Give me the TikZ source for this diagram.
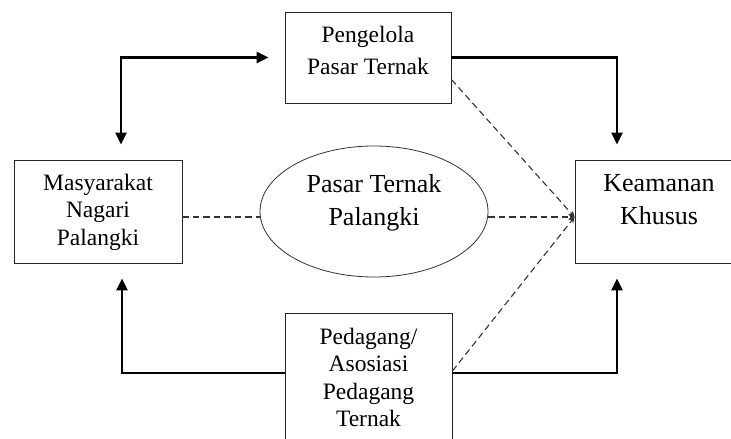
\documentclass[tikz,border=0pt]{standalone}
\usepackage{fontspec}
\setmainfont{Liberation Serif}
\usetikzlibrary{arrows.meta,shapes.geometric}

\begin{document}
\begin{tikzpicture}[
  x=1pt,y=-1pt,
  box/.style={draw=black!85,line width=0.9pt,inner sep=2pt,align=center,minimum width=167pt,minimum height=103pt,font=\fontsize{23.5}{27.5}\selectfont},
  bigtxt/.style={font=\fontsize{26}{33}\selectfont},
  arr/.style={-{Triangle[length=12pt,width=11pt]},line width=2.8pt},
  dline/.style={dash pattern=on 6.5pt off 4pt,line width=1.1pt,draw=black!80},
  tip/.style={-{Stealth[length=6pt,width=6pt]}}]
  \useasboundingbox (0,0) rectangle (731,439);
  \clip (0,0) rectangle (731,439);
  \node[box,minimum width=166pt,minimum height=91pt,font=\fontsize{23.5}{32}\selectfont,text height=49pt,text depth=16pt] (pengelola) at (368,57.5) {Pengelola\\Pasar Ternak};
  \node[box,minimum width=168pt,text height=72pt,text depth=5pt] (masyarakat) at (98,211.5) {Masyarakat\\Nagari\\Palangki};
  \node[box,bigtxt,minimum width=168pt,text height=52pt,text depth=27pt] (keamanan) at (659,211.5) {Keamanan\\Khusus};
  \node[ellipse,draw=black!80,line width=0.8pt,inner sep=0pt,align=center,bigtxt,minimum width=228pt,minimum height=131pt,text height=52pt,text depth=24pt] (pasar) at (374,211.5) {Pasar Ternak\\Palangki};
  \node[box,minimum height=148pt,text height=99.5pt,text depth=20pt] (pedagang) at (368.5,387) {Pedagang/\\Asosiasi\\Pedagang\\Ternak};
  \coordinate (meet) at ([yshift=-5.5pt]keamanan.west);
  \draw[arr,{Triangle[length=12pt,width=11pt]}-{Triangle[length=12pt,width=11pt]},shorten <=16pt,shorten >=15pt] (pengelola.west) -| ([xshift=23pt]masyarakat.north);
  \draw[arr,shorten >=15pt] (pengelola.east) -| ([xshift=-42pt]keamanan.north);
  \draw[arr,shorten >=15pt] ([yshift=14pt]pedagang.west) -| ([xshift=24pt]masyarakat.south);
  \draw[arr,shorten >=15pt] ([yshift=14pt]pedagang.east) -| ([xshift=-42pt]keamanan.south);
  \draw[dline] ([yshift=-5.5pt]masyarakat.east) -- ([yshift=-5.5pt]pasar.west);
  \draw[dline,tip] ([yshift=-5.5pt]pasar.east) -- (meet);
  \draw[dline,tip] ([yshift=-22pt]pengelola.east) -- (meet);
  \draw[dline,tip] ([yshift=16pt]pedagang.east) -- (meet);
\end{tikzpicture}
\end{document}
